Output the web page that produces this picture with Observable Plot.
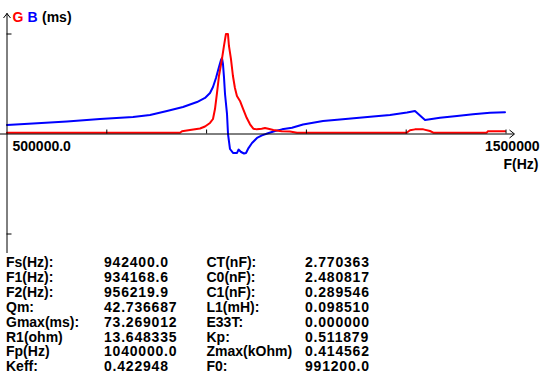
<!DOCTYPE html>
<html><head><meta charset="utf-8">
<script src="https://cdn.jsdelivr.net/npm/d3@7"></script>
<script src="https://cdn.jsdelivr.net/npm/@observablehq/plot@0.6"></script>
<style>
html,body{margin:0;padding:0;background:#fff;}
#wrap{width:541px;height:383px;position:relative;overflow:hidden;font-family:"Liberation Sans",Arial,sans-serif;font-weight:bold;font-size:14px;color:#000;}
#chart{height:255px;}
#table{display:grid;grid-template-columns:98px 102.5px 98.5px auto;margin-left:6px;line-height:14.9px;white-space:nowrap;}
.v{letter-spacing:0.8px;}
</style></head><body><div id="wrap"><div id="chart"></div><div id="table"></div></div>
<script>
// Conductance G (ms) vs frequency (Hz)
const freqG = [500000, 846700, 850700, 866700, 886800, 896800, 906800, 912800, 916800, 920800, 924800, 930800, 934800, 938800, 942800, 944800, 948800, 952800, 956800, 960800, 966900, 973500, 980300, 987000, 993600, 1000400, 1010400, 1017000, 1023600, 1033700, 1050500, 1067100, 1081200, 1301000, 1307600, 1317600, 1334300, 1347700, 1354300, 1461300, 1463900, 1498000];
const gValues = [0.95, 0.95, 2.0, 2.9, 4.0, 5.5, 8.1, 11.0, 18.3, 30.0, 42.5, 55.0, 64.5, 73.3, 73.3, 64.5, 55.0, 42.5, 33.7, 27.8, 24.2, 18.1, 11.9, 7.1, 3.9, 3.4, 3.9, 4.4, 3.9, 2.9, 2.0, 1.8, 0.95, 0.95, 2.7, 3.4, 3.4, 2.2, 0.95, 0.95, 2.0, 2.0];
// Susceptance B (ms) vs frequency (Hz)
const freqB = [500000, 552100, 620200, 686400, 752500, 786600, 820600, 852700, 880800, 896800, 906800, 912800, 918800, 924800, 928800, 930800, 932800, 934800, 936900, 940900, 942900, 946900, 952900, 961000, 964000, 969000, 975000, 979000, 984000, 991000, 1001000, 1011000, 1023000, 1037100, 1051100, 1071100, 1093200, 1133300, 1167300, 1233500, 1267500, 1301600, 1317600, 1337700, 1367700, 1401800, 1433900, 1468000, 1498000];
const bValues = [6.6, 7.7, 9.2, 11.0, 12.5, 13.9, 16.9, 19.8, 23.4, 26.4, 30.0, 34.4, 41.0, 49.1, 54.2, 55.7, 51.3, 41.8, 29.3, 14.7, 0, -11.0, -13.9, -13.9, -11.4, -13.2, -14.3, -13.9, -10.3, -6.6, -2.9, -1.0, 0.5, 2.2, 3.4, 4.6, 7.0, 9.5, 10.6, 12.8, 13.9, 15.8, 16.9, 10.3, 11.9, 13.2, 14.4, 15.6, 15.9];

const xMin = 500000, xMax = 1500000;
const xTicks = [700000, 900000, 1100000, 1300000, 1500000];
const xTickLabels = ["500000.0", "1500000"];
const xAxisTitle = "F(Hz)";
const gMax = 73.269012;
const yTicks = [gMax, -gMax];
const seriesLabels = ["G", "B", "(ms)"];
const seriesColors = ["#ff0000", "#0000ff", "#000000"];

const namesLeft = ["Fs(Hz):", "F1(Hz):", "F2(Hz):", "Qm:", "Gmax(ms):", "R1(ohm)", "Fp(Hz)", "Keff:"];
const valuesLeft = ["942400.0", "934168.6", "956219.9", "42.736687", "73.269012", "13.648335", "1040000.0", "0.422948"];
const namesRight = ["CT(nF):", "C0(nF):", "C1(nF):", "L1(mH):", "E33T:", "Kp:", "Zmax(kOhm)", "F0:"];
const valuesRight = ["2.770363", "2.480817", "0.289546", "0.098510", "0.000000", "0.511879", "0.414562", "991200.0"];

// scale geometry
const xRange = [6.5, 505.5];
const yRange = [233.5, 33.5];
const hzPerPx = (xMax - xMin) / (xRange[1] - xRange[0]);
const msPerPx = (2 * gMax) / (yRange[0] - yRange[1]);

const gData = freqG.map((f, i) => ({f, v: gValues[i]}));
const bData = freqB.map((f, i) => ({f, v: bValues[i]}));

const yTop = 120.5 * msPerPx, yBottom = -119.5 * msPerPx;
const xLeft = xMin - 6.5 * hzPerPx, xRight = xMin + 507.5 * hzPerPx;
const tickLen = 4 * msPerPx, yTickLen = 5 * hzPerPx;
const arrows = [
  {x1: xMin - 3.5 * hzPerPx, y1: yTop - 4.5 * msPerPx, x2: xMin, y2: yTop},
  {x1: xMin + 3.5 * hzPerPx, y1: yTop - 4.5 * msPerPx, x2: xMin, y2: yTop},
  {x1: xRight - 5 * hzPerPx, y1: 4 * msPerPx, x2: xRight, y2: 0},
  {x1: xRight - 5 * hzPerPx, y1: -4 * msPerPx, x2: xRight, y2: 0}
];

const chart = Plot.plot({
  width: 541, height: 255,
  marginTop: 0, marginRight: 0, marginBottom: 0, marginLeft: 0,
  style: {fontFamily: "'Liberation Sans', Arial, sans-serif", fontSize: "14px", fontWeight: "bold", background: "#fff", overflow: "visible"},
  x: {type: "linear", domain: [xMin, xMax], range: xRange, axis: null},
  y: {type: "linear", domain: [-gMax, gMax], range: yRange, axis: null},
  marks: [
    Plot.line(bData, {x: "f", y: "v", stroke: seriesColors[1], strokeWidth: 2}),
    Plot.line(gData, {x: "f", y: "v", stroke: seriesColors[0], strokeWidth: 2}),
    Plot.ruleX([xMin], {y1: yBottom, y2: yTop, stroke: "#000", strokeWidth: 1}),
    Plot.ruleY([0], {x1: xLeft, x2: xRight, stroke: "#000", strokeWidth: 1}),
    Plot.ruleX(xTicks, {y1: 0, y2: tickLen, stroke: "#000", strokeWidth: 1}),
    Plot.ruleY(yTicks, {x1: xMin, x2: xMin + yTickLen, stroke: "#000", strokeWidth: 1}),
    Plot.link(arrows, {x1: "x1", y1: "y1", x2: "x2", y2: "y2", stroke: "#000", strokeWidth: 1}),
    Plot.text([xTickLabels[0]], {x: xMin, y: 0, text: d => d, dx: 5.5, dy: 13, textAnchor: "start", lineAnchor: "middle", fill: "#000"}),
    Plot.text([xTickLabels[1]], {x: xMax, y: 0, text: d => d, dx: 33.5, dy: 13, textAnchor: "end", lineAnchor: "middle", fill: "#000"}),
    Plot.text([xAxisTitle], {x: xMax, y: 0, text: d => d, dx: 32.5, dy: 31, textAnchor: "end", lineAnchor: "middle", fill: "#000"}),
    Plot.text([seriesLabels[0]], {frameAnchor: "top-left", text: d => d, dx: 12, dy: 17, textAnchor: "start", lineAnchor: "middle", fill: seriesColors[0]}),
    Plot.text([seriesLabels[1]], {frameAnchor: "top-left", text: d => d, dx: 27, dy: 17, textAnchor: "start", lineAnchor: "middle", fill: seriesColors[1]}),
    Plot.text([seriesLabels[2]], {frameAnchor: "top-left", text: d => d, dx: 41.5, dy: 17, textAnchor: "start", lineAnchor: "middle", fill: seriesColors[2]})
  ]
});
document.getElementById("chart").appendChild(chart);

const table = document.getElementById("table");
namesLeft.forEach((n, i) => {
  for (const [t, cls] of [[n, ""], [valuesLeft[i], "v"], [namesRight[i], ""], [valuesRight[i], "v"]]) {
    const s = document.createElement("span");
    s.textContent = t;
    if (cls) s.className = cls;
    table.appendChild(s);
  }
});
</script></body></html>
